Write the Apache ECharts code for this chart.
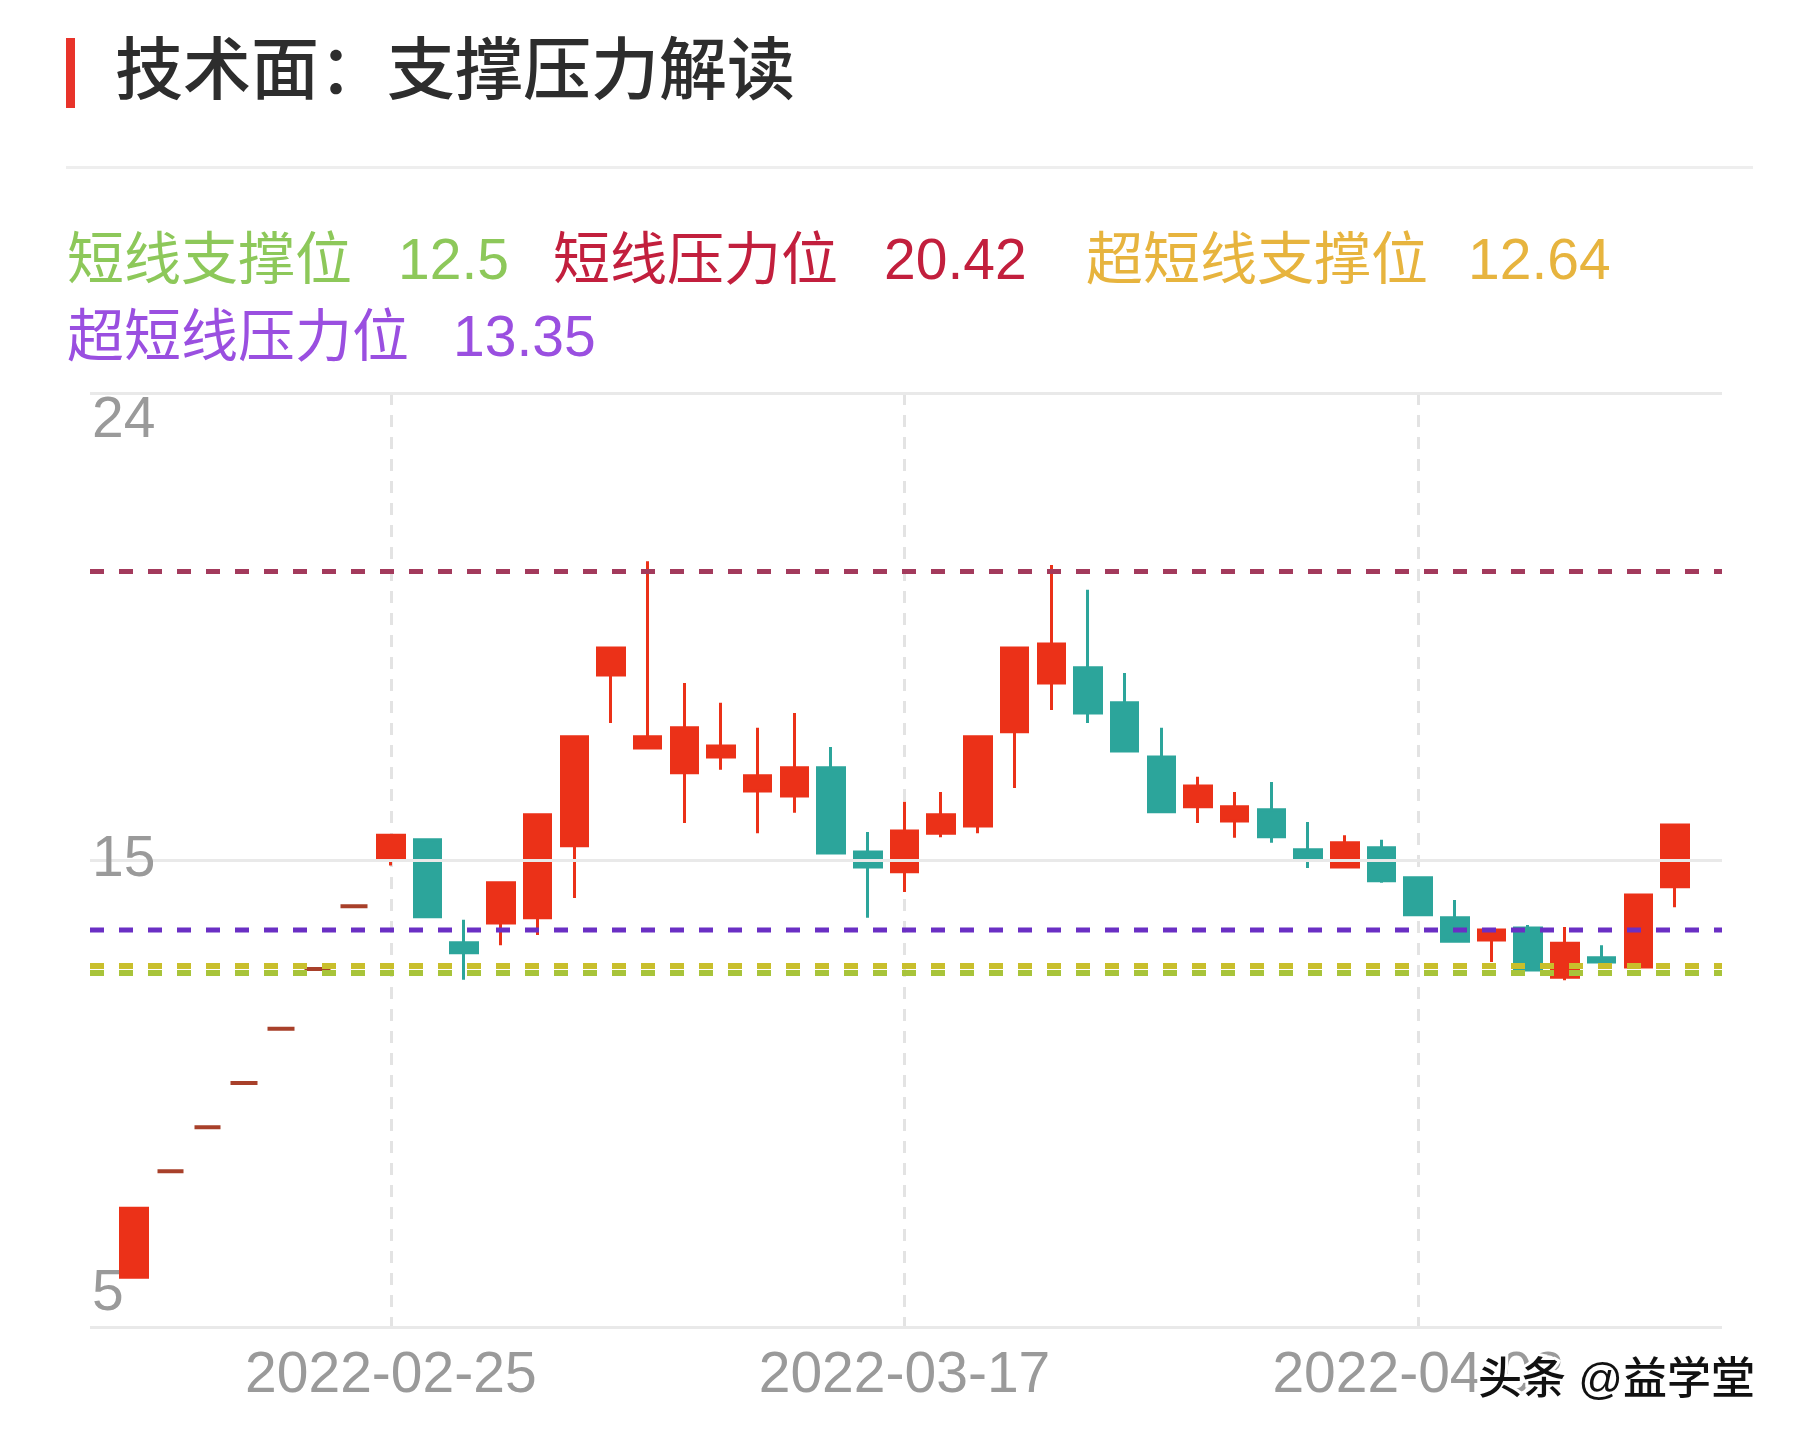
<!DOCTYPE html>
<html>
<head>
<meta charset="utf-8">
<script src="https://cdn.jsdelivr.net/npm/echarts@6/dist/echarts.min.js"></script>
<style>
  html, body { margin: 0; padding: 0; background: #fff; }
  #main { width: 1793px; height: 1440px; }
</style>
</head>
<body>
<div id="main"></div>
<script>
// 交易日
var dates = [
  '2022-02-16', '2022-02-17', '2022-02-18', '2022-02-21', '2022-02-22', '2022-02-23', '2022-02-24',
  '2022-02-25', '2022-02-28', '2022-03-01', '2022-03-02', '2022-03-03', '2022-03-04', '2022-03-07',
  '2022-03-08', '2022-03-09', '2022-03-10', '2022-03-11', '2022-03-14', '2022-03-15', '2022-03-16',
  '2022-03-17', '2022-03-18', '2022-03-21', '2022-03-22', '2022-03-23', '2022-03-24', '2022-03-25',
  '2022-03-28', '2022-03-29', '2022-03-30', '2022-03-31', '2022-04-01', '2022-04-06', '2022-04-07',
  '2022-04-08', '2022-04-11', '2022-04-12', '2022-04-13', '2022-04-14', '2022-04-15', '2022-04-18',
  '2022-04-19'
];
var openPrices = [
  6.50, 8.59, 9.46, 10.33, 11.40, 12.58, 13.82,
  14.73, 15.13, 13.10, 13.49, 13.59, 15.01, 18.38,
  16.94, 16.45, 16.76, 16.09, 15.99, 16.55, 14.89,
  14.50, 15.26, 15.40, 17.26, 18.22, 18.52, 17.83,
  16.76, 15.78, 15.50, 15.72, 14.93, 14.59, 14.97,
  14.38, 13.59, 13.15, 13.39, 12.42, 12.80, 12.62,
  14.20
];
var closePrices = [
  7.86, 8.59, 9.46, 10.33, 11.40, 12.58, 13.82,
  15.22, 13.61, 12.90, 14.28, 15.62, 17.16, 18.91,
  17.16, 17.34, 16.98, 16.39, 16.55, 14.87, 14.59,
  15.30, 15.62, 17.16, 18.91, 18.99, 17.63, 16.88,
  15.68, 16.19, 15.78, 15.19, 14.77, 15.07, 14.32,
  13.65, 13.13, 13.35, 12.56, 13.09, 12.72, 14.04,
  15.42
];
var lowPrices = [
  6.50, 8.59, 9.46, 10.33, 11.40, 12.58, 13.82,
  14.62, 13.61, 12.37, 13.05, 13.25, 13.98, 17.43,
  16.94, 15.46, 16.51, 15.26, 15.66, 14.87, 13.59,
  14.10, 15.18, 15.26, 16.15, 17.69, 17.43, 16.88,
  15.68, 15.46, 15.17, 15.07, 14.57, 14.59, 14.28,
  13.65, 13.13, 12.72, 12.56, 12.36, 12.72, 12.62,
  13.80
];
var highPrices = [
  7.86, 8.59, 9.46, 10.33, 11.40, 12.58, 13.82,
  15.24, 15.13, 13.55, 14.28, 15.62, 17.16, 18.91,
  20.62, 18.22, 17.83, 17.34, 17.63, 16.96, 15.28,
  15.88, 16.07, 17.16, 18.91, 20.55, 20.06, 18.42,
  17.34, 16.37, 16.07, 16.27, 15.48, 15.22, 15.13,
  14.40, 13.94, 13.35, 13.45, 13.41, 13.05, 14.04,
  15.42
];

// 支撑压力位
var levelNames = ['短线支撑位', '短线压力位', '超短线支撑位', '超短线压力位'];
var levelValues = [12.5, 20.42, 12.64, 13.35];

// 纵轴范围与刻度文字
var priceMin = 5.52;
var priceMax = 23.94;
var yTickLabels = ['5', '15', '24'];

var levelColors = ['#a8c43a', '#a33a5c', '#c9bf2c', '#6a2fc4'];
var levelWidths = [6, 5, 6, 5];
var legendColors = ['#8dc85a', '#c21f3d', '#e7b43e', '#9a4fe0'];
var legendPos = [[67, 263, 398], [553, 263, 884], [1086, 263, 1468], [67, 340, 453]];

var UP = '#eb3118';
var DOWN = '#2ca59b';
var FONT = "'Liberation Sans', 'Noto Sans CJK SC', sans-serif";

var chart = echarts.init(document.getElementById('main'));

var kData = dates.map(function (d, i) {
  var o = openPrices[i], c = closePrices[i], l = lowPrices[i], h = highPrices[i];
  var item = { value: [o, c, l, h] };
  // 一字板画深一点
  if (o === c && c === l && l === h) {
    item.itemStyle = { color: '#a8402a', borderColor: '#a8402a', borderWidth: 4 };
  }
  return item;
});

var levelSeries = [];
[0, 2, 1, 3].forEach(function (k) {
  levelSeries.push({
    type: 'line',
    xAxisIndex: 0,
    yAxisIndex: 0,
    silent: true,
    symbol: 'none',
    z: 6,
    data: [[0, levelValues[k]], [1, levelValues[k]]],
    lineStyle: { color: levelColors[k], width: levelWidths[k], type: [14, 15] }
  });
});

var graphics = [
  { type: 'rect', shape: { x: 66, y: 38, width: 9, height: 70 }, style: { fill: '#e8332a' } },
  {
    type: 'text', x: 115, y: 75,
    style: { text: '技术面：支撑压力解读', font: '500 68px ' + FONT, fill: '#2d2d2d', verticalAlign: 'middle' }
  },
  { type: 'rect', shape: { x: 66, y: 166, width: 1687, height: 3 }, style: { fill: '#eeeeee' } },
  {
    type: 'text', x: 1478, y: 1382, z: 100,
    style: {
      text: '头条 @益学堂', font: '500 44px ' + FONT, fill: '#111111',
      stroke: '#ffffff', lineWidth: 6, verticalAlign: 'middle'
    }
  }
];
levelNames.forEach(function (name, k) {
  var p = legendPos[k];
  graphics.push({
    type: 'text', x: p[0], y: p[1],
    style: { text: name, font: '57px ' + FONT, fill: legendColors[k], verticalAlign: 'middle' }
  });
  graphics.push({
    type: 'text', x: p[2], y: p[1],
    style: { text: String(levelValues[k]), font: '57px ' + FONT, fill: legendColors[k], verticalAlign: 'middle' }
  });
});

var option = {
  backgroundColor: '#ffffff',
  animation: false,
  graphic: graphics,
  grid: [
    { left: 90, right: 71, top: 393, bottom: 113 },
    { left: 134, right: 118, top: 393, bottom: 113 }
  ],
  xAxis: [
    { type: 'value', gridIndex: 0, min: 0, max: 1, show: false },
    {
      type: 'category',
      gridIndex: 1,
      data: dates,
      boundaryGap: false,
      axisLine: { show: false },
      axisTick: { show: false },
      axisLabel: {
        interval: function (i) { return i % 14 === 7; },
        margin: 21,
        fontSize: 57,
        fontFamily: FONT,
        color: '#9a9a9a'
      },
      splitLine: {
        show: true,
        interval: function (i) { return i % 14 === 7; },
        lineStyle: { color: '#e3e3e3', width: 3, type: [12, 10] }
      }
    }
  ],
  yAxis: [
    { type: 'value', gridIndex: 0, position: 'right', min: priceMin, max: priceMax, show: false },
    {
      type: 'value',
      gridIndex: 0,
      position: 'left',
      min: 0,
      max: 2,
      interval: 1,
      z: 5,
      axisLine: { show: false },
      axisTick: { show: false },
      splitLine: { lineStyle: { color: '#e9e9e9', width: 3 } },
      axisLabel: {
        inside: true,
        margin: 2,
        fontSize: 57,
        fontFamily: FONT,
        color: '#9a9a9a',
        formatter: function (v) {
          var t = yTickLabels[v];
          if (v === 2) return '{t|' + t + '}';
          if (v === 0) return '{b|' + t + '}';
          return '{m|' + t + '}';
        },
        rich: {
          t: { fontSize: 57, fontFamily: FONT, color: '#9a9a9a', padding: [56, 0, 0, 0] },
          m: { fontSize: 57, fontFamily: FONT, color: '#9a9a9a' },
          b: { fontSize: 57, fontFamily: FONT, color: '#9a9a9a', padding: [0, 0, 66, 0] }
        }
      }
    },
    { type: 'value', gridIndex: 1, min: priceMin, max: priceMax, show: false }
  ],
  series: [
    {
      type: 'candlestick',
      xAxisIndex: 1,
      yAxisIndex: 2,
      barWidth: 27,
      clip: false,
      z: 2,
      data: kData,
      itemStyle: {
        color: UP,
        color0: DOWN,
        borderColor: UP,
        borderColor0: DOWN,
        borderWidth: 3
      }
    }
  ].concat(levelSeries)
};

chart.setOption(option);
</script>
</body>
</html>
